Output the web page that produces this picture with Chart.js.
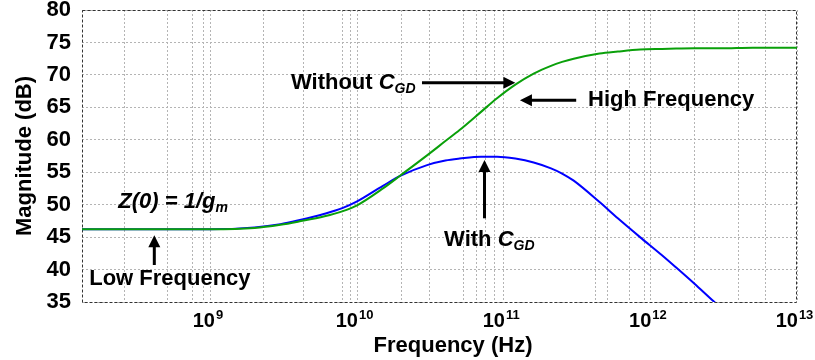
<!DOCTYPE html>
<html>
<head>
<meta charset="utf-8">
<script src="https://cdn.jsdelivr.net/npm/chart.js@4.4.1/dist/chart.umd.min.js"></script>
<style>
  html, body { margin: 0; padding: 0; background: #fff; }
</style>
</head>
<body>
<canvas id="myChart" width="815" height="360"></canvas>
<script>
// frequency (Hz) and magnitude (dB)
const freqs = [1.33e8, 5e8, 1e9, 2e9, 3e9, 4e9, 6e9, 8e9, 1e10, 1.5e10, 2e10, 3e10, 4e10, 5e10, 7e10, 9e10,
  1.2e11, 1.6e11, 2.1e11, 2.5e11, 3e11, 4.5e11, 6e11, 8.5e11, 1.2e12, 1.5e12, 2e12, 2.7e12, 3e12, 5e12, 1e13];
const withoutCgd = [46.2, 46.2, 46.2, 46.4, 46.9, 47.4, 48.2, 49.0, 49.9, 52.5, 54.6, 57.6, 59.8, 61.5, 64.3, 66.4,
  68.5, 70.2, 71.4, 72.0, 72.5, 73.3, 73.6, 73.9, 74.0, 74.05, 74.1, 74.1, 74.1, 74.2, 74.2];
const withCgd = [46.2, 46.2, 46.2, 46.5, 47.0, 47.6, 48.6, 49.5, 50.5, 52.9, 54.5, 56.1, 56.8, 57.1, 57.4, 57.4,
  57.1, 56.5, 55.6, 54.8, 53.7, 50.4, 47.9, 45.0, 42.2, 40.3, 37.8, 35.1, 34.2, null, null];

const xMin = 1.33e8;
const xMax = 1e13;
const xTickExps = [9, 10, 11, 12, 13];
const xGridValues = [2.6e8, 5.1e8, 7.5e8, 8.9e8, 1e9, 2.3e9, 4.3e9, 8e9, 9e9, 1e10,
  2e10, 3.1e10, 5.3e10, 6.5e10, 7.5e10, 8.7e10, 1e11, 4.2e11, 5.1e11, 7.2e11, 9.1e11,
  1e12, 2e12, 4e12, 6.1e12, 1e13];
const yTicks = [35, 40, 45, 50, 55, 60, 65, 70, 75, 80];

const FONT = "'Liberation Sans', Arial, sans-serif";

// text notes and arrows, placed in data coordinates
const notes = [
  { f: 3.54e9, v: 67.8, parts: [["Without ", "bold", 22, 0], ["C", "italic bold", 22, 0], ["GD", "italic bold", 14, 4]] },
  { f: 3.76e11, v: 65.2, parts: [["High Frequency", "bold", 22, 0]] },
  { f: 2.35e8, v: 49.5, parts: [["Z(0) = 1/g", "italic bold", 22, 0], ["m", "italic bold", 14, 4]] },
  { f: 1.49e8, v: 37.6, parts: [["Low Frequency", "bold", 22, 0]] },
  { f: 3.92e10, v: 43.6, parts: [["With ", "bold", 22, 0], ["C", "italic bold", 22, 0], ["GD", "italic bold", 14, 4]] }
];
const arrows = [
  { from: [2.77e10, 68.8], to: [1.2e11, 68.8] },
  { from: [3.12e11, 66.1], to: [1.29e11, 66.1] },
  { from: [4.14e8, 40.7], to: [4.14e8, 45.3] },
  { from: [7.39e10, 47.9], to: [7.39e10, 56.9] }
];

function drawParts(ctx, parts, x, y) {
  let cx = x;
  parts.forEach(([t, style, size, dy]) => {
    ctx.font = style + " " + size + "px " + FONT;
    ctx.fillText(t, cx, y + dy);
    cx += ctx.measureText(t).width;
  });
}

function drawArrow(ctx, x1, y1, x2, y2) {
  const ang = Math.atan2(y2 - y1, x2 - x1);
  const len = 12, hw = 6;
  ctx.beginPath();
  ctx.moveTo(x1, y1);
  ctx.lineTo(x2 - Math.cos(ang) * (len - 1), y2 - Math.sin(ang) * (len - 1));
  ctx.stroke();
  ctx.beginPath();
  ctx.moveTo(x2, y2);
  ctx.lineTo(x2 - Math.cos(ang) * len - Math.sin(ang) * hw, y2 - Math.sin(ang) * len + Math.cos(ang) * hw);
  ctx.lineTo(x2 - Math.cos(ang) * len + Math.sin(ang) * hw, y2 - Math.sin(ang) * len - Math.cos(ang) * hw);
  ctx.closePath();
  ctx.fill();
}

const extras = {
  id: "extras",
  beforeDatasetsDraw(chart) {
    const { ctx, chartArea: a } = chart;
    ctx.save();
    ctx.strokeStyle = "#333";
    ctx.lineWidth = 1;
    ctx.setLineDash([3, 2]);
    ctx.strokeRect(a.left + 0.5, a.top + 0.5, a.right - a.left - 1, a.bottom - a.top);
    ctx.restore();
  },
  afterDraw(chart) {
    const { ctx } = chart;
    const xs = chart.scales.x, ys = chart.scales.y;
    ctx.save();
    ctx.fillStyle = "#000";
    ctx.strokeStyle = "#000";
    ctx.textBaseline = "alphabetic";
    ctx.textAlign = "left";

    // x tick labels 10^n
    xTickExps.forEach(e => {
      const px = xs.getPixelForValue(Math.pow(10, e));
      ctx.font = "bold 20px " + FONT;
      const w1 = ctx.measureText("10").width;
      ctx.font = "bold 13px " + FONT;
      const w2 = ctx.measureText(String(e)).width;
      const x0 = px - (w1 + w2) / 2 - 3;
      ctx.font = "bold 20px " + FONT;
      ctx.fillText("10", x0, 327);
      ctx.font = "bold 13px " + FONT;
      ctx.fillText(String(e), x0 + w1 + 1, 319);
    });

    // axis titles
    ctx.font = "bold 22px " + FONT;
    ctx.textAlign = "center";
    ctx.fillText("Frequency (Hz)", 453, 352);
    ctx.save();
    ctx.translate(31, 156);
    ctx.rotate(-Math.PI / 2);
    ctx.fillText("Magnitude (dB)", 0, 0);
    ctx.restore();

    // notes
    ctx.textAlign = "left";
    notes.forEach(n => {
      drawParts(ctx, n.parts, xs.getPixelForValue(n.f), ys.getPixelForValue(n.v));
    });
    ctx.lineWidth = 3;
    arrows.forEach(ar => {
      drawArrow(ctx,
        xs.getPixelForValue(ar.from[0]), ys.getPixelForValue(ar.from[1]),
        xs.getPixelForValue(ar.to[0]), ys.getPixelForValue(ar.to[1]));
    });
    ctx.restore();
  }
};

const ctx = document.getElementById("myChart").getContext("2d");
new Chart(ctx, {
  type: "line",
  data: {
    datasets: [
      {
        label: "Without CGD",
        data: freqs.map((f, i) => ({ x: f, y: withoutCgd[i] })),
        borderColor: "#0aa00a",
        borderWidth: 2,
        pointRadius: 0,
        cubicInterpolationMode: "monotone"
      },
      {
        label: "With CGD",
        data: freqs.map((f, i) => ({ x: f, y: withCgd[i] })),
        borderColor: "#0000ff",
        borderWidth: 2,
        pointRadius: 0,
        cubicInterpolationMode: "monotone"
      }
    ]
  },
  options: {
    responsive: false,
    animation: false,
    devicePixelRatio: 1,
    layout: { padding: { left: 0, right: 18, top: 10, bottom: 0 } },
    plugins: { legend: { display: false }, tooltip: { enabled: false } },
    scales: {
      x: {
        type: "logarithmic",
        min: xMin,
        max: xMax,
        afterBuildTicks: s => { s.ticks = xGridValues.map(v => ({ value: v })); },
        afterFit: s => { s.height = 58; s.paddingLeft = 0; s.paddingRight = 0; },
        ticks: { autoSkip: false, callback: () => "" },
        grid: { color: "#b4b4b4", lineWidth: 1, drawTicks: false },
        border: { display: false, dash: [2, 2] }
      },
      y: {
        min: 35,
        max: 80,
        afterBuildTicks: s => { s.ticks = yTicks.map(v => ({ value: v })); },
        afterFit: s => { s.width = 82; s.paddingTop = 0; s.paddingBottom = 0; },
        ticks: {
          padding: 11,
          color: "#000",
          font: { family: FONT, size: 22, weight: "bold" }
        },
        grid: { color: "#b4b4b4", lineWidth: 1, drawTicks: false },
        border: { display: false, dash: [2, 2] }
      }
    }
  },
  plugins: [extras]
});
</script>
</body>
</html>
